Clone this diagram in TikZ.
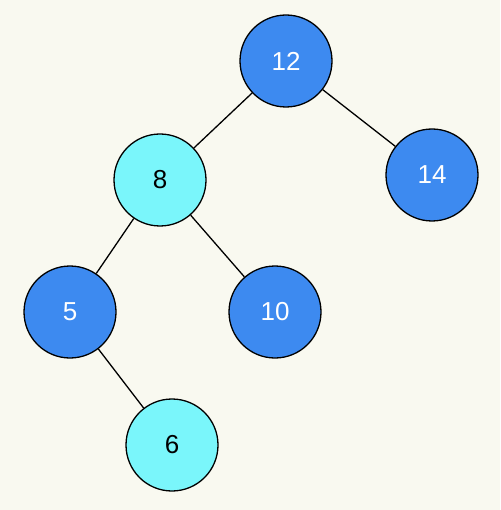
\documentclass[tikz,border=0pt]{standalone}
\usepackage{fontspec}
\setmainfont{Liberation Sans}
\definecolor{bg}{HTML}{F9F9F0}
\definecolor{nblue}{HTML}{3D8AF0}
\definecolor{ncyan}{HTML}{7AF6FB}
\begin{document}
\begin{tikzpicture}[x=1pt,y=-1pt,
  bnode/.style={circle,draw=black,line width=1.3pt,fill=nblue,text=white,minimum size=92pt,inner sep=0pt,font=\fontsize{26}{30}\selectfont},
  cnode/.style={bnode,fill=ncyan,text=black},
  edge/.style={line width=1.3pt,draw=black}]
\fill[bg] (0,0) rectangle (500,510);
\useasboundingbox (0,0) rectangle (500,510);
\node[bnode] (n12) at (286,61) {12};
\node[cnode] (n8) at (160,180) {8};
\node[bnode] (n14) at (432,175) {14};
\node[bnode] (n5) at (70,312) {5};
\node[bnode] (n10) at (275,312) {10};
\node[cnode] (n6) at (172,445) {6};
\draw[edge] (n12) -- (n8);
\draw[edge] (n12) -- (n14);
\draw[edge] (n8) -- (n5);
\draw[edge] (n8) -- (n10);
\draw[edge] (n5) -- (n6);
\end{tikzpicture}
\end{document}
